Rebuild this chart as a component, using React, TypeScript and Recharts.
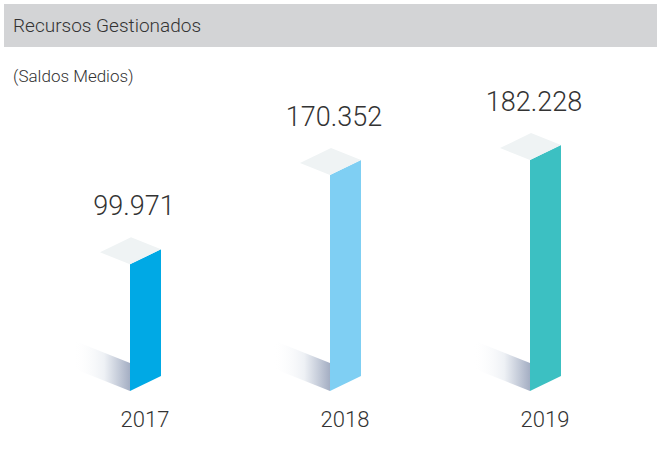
import React from "react";
import { BarChart, Bar, XAxis, YAxis, LabelList } from "recharts";

const years = ["2017", "2018", "2019"];
const balances = [99971, 170352, 182228];
const faceColors = ["#00a9e5", "#7fcff3", "#3cc0c2"];

const data = years.map((year, i) => ({ year, value: balances[i], color: faceColors[i] }));

const FONT = "Roboto, 'Open Sans', sans-serif";
const SLOPE = 15; // rise of the front face across its width
const DEPTH_X = -30;
const DEPTH_Y = -12;

const fmt = (v: number) => v.toLocaleString("de-DE");

const Block = (props: any) => {
  const { x, y, width, height, payload, index } = props;
  const b = y + height;
  const w = width;
  const gid = `shadow-${index}`;
  const shadow = [
    [x, b],
    [x, b - 28],
    [x + DEPTH_X * 1.9, b - 28 + DEPTH_Y * 1.9],
    [x + DEPTH_X * 1.9, b + DEPTH_Y * 1.9],
  ];
  const face = [
    [x, b],
    [x, y],
    [x + w, y - SLOPE],
    [x + w, b - SLOPE],
  ];
  const top = [
    [x, y],
    [x + w, y - SLOPE],
    [x + w + DEPTH_X, y - SLOPE + DEPTH_Y],
    [x + DEPTH_X, y + DEPTH_Y],
  ];
  const pts = (p: number[][]) => p.map((q) => q.join(",")).join(" ");
  return (
    <g>
      <defs>
        <linearGradient id={gid} x1="0" y1="0" x2="1" y2="0">
          <stop offset="0" stopColor="#ffffff" stopOpacity={0} />
          <stop offset="0.55" stopColor="#eef1f5" stopOpacity={1} />
          <stop offset="1" stopColor="#a4aec3" stopOpacity={1} />
        </linearGradient>
      </defs>
      <polygon points={pts(shadow)} fill={`url(#${gid})`} />
      <polygon points={pts(face)} fill={payload.color} />
      <polygon points={pts(top)} fill="#eff3f4" />
    </g>
  );
};

const ValueLabel = (props: any) => {
  const { x, y, value } = props;
  return (
    <text
      x={x + 4}
      y={y - 49}
      textAnchor="middle"
      fontFamily={FONT}
      fontWeight={300}
      fontSize={27}
      fill="#333333"
    >
      {fmt(value)}
    </text>
  );
};

const YearTick = (props: any) => {
  const { x, y, payload } = props;
  return (
    <text
      x={x}
      y={y}
      dy={28}
      textAnchor="middle"
      fontFamily={FONT}
      fontWeight={300}
      fontSize={22}
      fill="#333333"
    >
      {payload.value}
    </text>
  );
};

export default function App() {
  return (
    <div style={{ position: "absolute", left: 0, top: 0, width: 657, height: 471, background: "#fff" }}>
      <div
        style={{
          position: "absolute",
          left: 4,
          top: 4,
          width: 653,
          height: 43,
          background: "#d3d4d6",
          fontFamily: FONT,
          fontWeight: 300,
          fontSize: 19,
          color: "#333",
          lineHeight: "43px",
          paddingLeft: 9,
          boxSizing: "border-box",
        }}
      >
        Recursos Gestionados
      </div>
      <div
        style={{
          position: "absolute",
          left: 13,
          top: 63,
          fontFamily: FONT,
          fontWeight: 300,
          fontSize: 17,
          color: "#333",
          lineHeight: "26px",
        }}
      >
        (Saldos Medios)
      </div>
      <div style={{ position: "absolute", left: 0, top: 0 }}>
        <BarChart
          width={657}
          height={471}
          data={data}
          margin={{ top: 137.5, right: 12, left: 45, bottom: 50 }}
        >
          <XAxis
            dataKey="year"
            axisLine={false}
            tickLine={false}
            height={30}
            tick={<YearTick />}
            interval={0}
          />
          <YAxis hide domain={[0, 200000]} />
          <Bar dataKey="value" barSize={31} shape={<Block />} isAnimationActive={false}>
            <LabelList dataKey="value" content={<ValueLabel />} />
          </Bar>
        </BarChart>
      </div>
    </div>
  );
}
